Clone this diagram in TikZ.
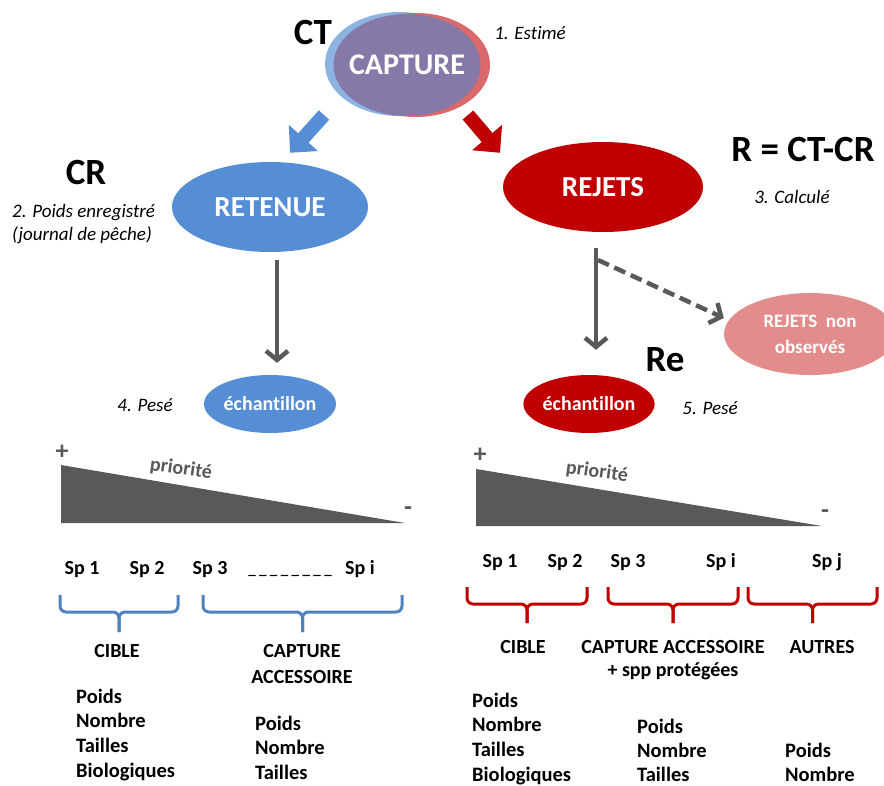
\documentclass[tikz,border=0pt]{standalone}
\usepackage{fontspec}
\setmainfont{Carlito}[Ligatures=NoCommon]
\usetikzlibrary{shapes.geometric,arrows.meta}
\definecolor{bleuret}{HTML}{558ED5}
\definecolor{rougerej}{HTML}{C00000}
\definecolor{roseobs}{HTML}{E28C8B}
\definecolor{grisfonce}{HTML}{595959}
\definecolor{bleuacc}{HTML}{4F81BD}
\definecolor{capbleu}{HTML}{8DB3E2}
\definecolor{caprouge}{HTML}{D9696A}
\definecolor{capviolet}{HTML}{8679A8}
\newcommand{\taille}[2]{\fontsize{#1}{#2}\selectfont}

\begin{document}
\begin{tikzpicture}[x=1pt,y=-1pt,
    ovale/.style={ellipse, inner sep=0pt, text=white, font=\bfseries},
    gros/.style={font=\bfseries\taille{37}{40}},
    note/.style={font=\itshape\taille{19}{22}},
    espece/.style={anchor=base, font=\bfseries\taille{20}{23}},
    liste/.style={anchor=base west, inner sep=0pt, font=\bfseries\taille{20.5}{23}},
    fleche/.style={draw=grisfonce, line width=4.5pt, -{Straight Barb[length=9pt,width=22pt]}},
    bloc/.style={line width=14pt, -{Triangle[length=20pt,width=38pt]}},
    accolade/.style={line width=3pt, rounded corners=6pt}]
  \useasboundingbox (0,0) rectangle (884,785);

  %Capture
  \fill[capbleu] (399,64) ellipse [x radius=74, y radius=52];
  \fill[caprouge] (416,65) ellipse [x radius=74, y radius=52];
  \fill[capviolet] (407,65) ellipse [x radius=73.5, y radius=51];
  \node[text=white, font=\bfseries\taille{30}{33}] (capture) at (407,65) {CAPTURE};
  \node[gros] (ct) at (313,32) {CT};
  \node[note] (n1) at (530,33) {1. Estimé};

  %Retenue / Rejets
  \node[ovale, fill=bleuret, minimum width=196, minimum height=90, font=\bfseries\taille{29}{32}] (retenue) at (270,207) {RETENUE};
  \node[ovale, fill=rougerej, minimum width=200, minimum height=90, font=\bfseries\taille{29}{32}] (rejets) at (603,187) {REJETS};
  \draw[bloc, bleuret] ([xshift=-83pt,yshift=-50pt]capture.center) -- ([xshift=20pt,yshift=9pt]retenue.north);
  \draw[bloc, rougerej] ([xshift=61pt,yshift=-50pt]capture.center) -- ([xshift=-103pt,yshift=-11pt]rejets.north);
  \node[gros] (cr) at (86,172) {CR};
  \node[note, anchor=base west, inner sep=0pt] (n2) at (12,217) {2. Poids enregistré};
  \node[note, anchor=base west, inner sep=0pt] (n2b) at (12,240) {(journal de pêche)};
  \node[gros] (r) at (803,149) {R = CT-CR};
  \node[note] (n3) at (792,197) {3. Calculé};

  %Echantillons
  \node[ovale, fill=bleuret, minimum width=132, minimum height=58, font=\bfseries\taille{20}{23}] (echB) at (270,404) {échantillon};
  \node[ovale, fill=rougerej, minimum width=130, minimum height=58, font=\bfseries\taille{20}{23}] (echR) at (589,404) {échantillon};
  \node[ovale, fill=roseobs, minimum width=172, minimum height=82, align=center, font=\bfseries\taille{19}{26}] (obs) at (810,334) {REJETS\ \ non\\observés};
  \node[note] (n4) at (145,405) {4. Pesé};
  \node[note] (n5) at (710,408) {5. Pesé};
  \node[gros] (re) at (665,360) {Re};

  \draw[fleche] ([xshift=7pt,yshift=-8pt]retenue.south) -- ([xshift=7pt,yshift=12pt]echB.north);
  \coordinate (bifurc) at (596,248);
  \draw[fleche] (bifurc) -- ([xshift=7pt,yshift=25pt]echR.north);
  \draw[fleche, dash pattern=on 12pt off 6pt] ([xshift=2pt,yshift=-12pt]bifurc) -- ([yshift=16pt]obs.west);

  %Triangles de priorite
  \fill[grisfonce] (61,465) -- (61,523) -- (405,523) -- cycle;
  \fill[grisfonce] (476,469) -- (476,526) -- (822,526) -- cycle;
  \foreach \px/\py/\mx/\my/\tx/\ty in {62/452/408/511/181/469, 480/455/825/514/597/472}{
    \node[font=\bfseries\taille{26}{28}, text=grisfonce] at (\px,\py) {+};
    \node[font=\bfseries\taille{26}{28}, text=grisfonce] at (\mx,\my) {-};
    \node[font=\bfseries\taille{20}{23}, text=grisfonce, rotate=-8] at (\tx,\ty) {priorité};
  }

  %Especes gauche
  \node[espece] (g1) at (82,574) {Sp 1};
  \node[espece] (g2) at (147,574) {Sp 2};
  \node[espece] (g3) at (210,574) {Sp 3};
  \node[espece, font=\bfseries\taille{15}{18}] (gd) at (290,574) {\_ \_ \_ \_ \_ \_ \_ \_};
  \node[espece] (gi) at (360,574) {Sp i};
  \foreach \a/\b in {60/178, 203/402}{
    \draw[accolade, bleuacc] (\a,595) |- ({(\a+\b)/2},612) -- ({(\a+\b)/2},632);
    \draw[accolade, bleuacc] (\b,595) |- ({(\a+\b)/2},612) -- ({(\a+\b)/2},632);
  }
  \node[espece] (gcib) at (117,657) {CIBLE};
  \node[espece] (gcap) at (302,657) {CAPTURE};
  \node[espece] (gacc) at (302,683) {ACCESSOIRE};
  \foreach \mot [count=\i from 0] in {Poids,Nombre,Tailles,Biologiques}
    \node[liste] (gl\i) at (76,703+24.8*\i) {\mot};
  \foreach \mot [count=\i from 0] in {Poids,Nombre,Tailles}
    \node[liste] (gm\i) at (255,730+24.5*\i) {\mot};

  %Especes droite
  \node[espece] (d1) at (500,567) {Sp 1};
  \node[espece] (d2) at (565,567) {Sp 2};
  \node[espece] (d3) at (628,567) {Sp 3};
  \node[espece] (di) at (721,567) {Sp i};
  \node[espece] (dj) at (827,567) {Sp j};
  \foreach \a/\b in {467/587, 608/738, 748/877}{
    \draw[accolade, rougerej] (\a,587) |- ({(\a+\b)/2},604) -- ({(\a+\b)/2},623);
    \draw[accolade, rougerej] (\b,587) |- ({(\a+\b)/2},604) -- ({(\a+\b)/2},623);
  }
  \node[espece] (dcib) at (523,653) {CIBLE};
  \node[espece] (dcap) at (673,653) {CAPTURE ACCESSOIRE};
  \node[espece] (dspp) at (673,676) {+ spp protégées};
  \node[espece] (daut) at (822,653) {AUTRES};
  \foreach \mot [count=\i from 0] in {Poids,Nombre,Tailles,Biologiques}
    \node[liste] (dl\i) at (472,707+24.7*\i) {\mot};
  \foreach \mot [count=\i from 0] in {Poids,Nombre,Tailles}
    \node[liste] (dm\i) at (637,733+24*\i) {\mot};
  \foreach \mot [count=\i from 0] in {Poids,Nombre}
    \node[liste] (dr\i) at (785,757+24*\i) {\mot};
\end{tikzpicture}
\end{document}
